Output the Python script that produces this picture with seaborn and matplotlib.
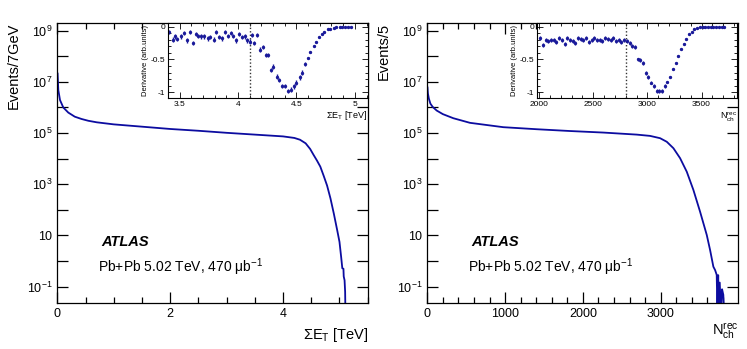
import numpy as np
import seaborn as sns
import matplotlib
matplotlib.use('Agg')
import matplotlib.pyplot as plt
from matplotlib.ticker import MultipleLocator, LogLocator, NullLocator, FuncFormatter

# main distributions (x, log10 of events per bin)
et_x = [0.005, 0.018, 0.048, 0.106, 0.195, 0.31, 0.43, 0.55, 0.7, 0.85, 1.0, 1.5, 2.0, 2.5,
        3.0, 3.5, 4.0, 4.2, 4.3, 4.4, 4.48, 4.54, 4.60, 4.66, 4.72, 4.78, 4.84, 4.90, 4.96,
        5.00, 5.03, 5.05, 5.07, 5.075, 5.09, 5.10, 5.105]
et_log = [7.34, 6.68, 6.29, 6.0, 5.80, 5.64, 5.55, 5.48, 5.42, 5.38, 5.34, 5.25, 5.16, 5.09,
          5.01, 4.94, 4.87, 4.81, 4.74, 4.60, 4.38, 4.15, 3.93, 3.69, 3.33, 2.95, 2.45, 1.85, 1.2,
          0.75, 0.15, -0.28, -0.30, -0.6, -0.75, -1.2, -2.0]

nch_x = [2, 8, 20, 40, 70, 121, 200, 335, 549, 977, 1407, 1835, 2263, 2693, 2864, 2993,
         3079, 3164, 3250, 3336, 3421, 3507, 3593, 3636, 3678, 3700, 3721, 3730, 3740,
         3750, 3760, 3775, 3790, 3806, 3815, 3828]
nch_log = [6.8, 6.55, 6.35, 6.15, 6.02, 5.88, 5.74, 5.58, 5.40, 5.23, 5.15, 5.08, 5.02,
           4.94, 4.89, 4.80, 4.66, 4.41, 4.02, 3.49, 2.78, 1.93, 1.02, 0.43, -0.22, -0.35,
           -0.54, -2.0, -0.55, -2.0, -0.84, -2.0, -1.1, -1.32, -2.0, -2.0]

# derivative insets
et_dx = [3.41, 3.44, 3.46, 3.48, 3.51, 3.54, 3.56, 3.59, 3.61, 3.64,
         3.66, 3.68, 3.71, 3.74, 3.76, 3.79, 3.81, 3.84, 3.86, 3.89,
         3.91, 3.94, 3.96, 3.98, 4.01, 4.03, 4.06, 4.08, 4.10, 4.12,
         4.14, 4.16, 4.19, 4.21, 4.24, 4.26, 4.28, 4.30, 4.33, 4.35,
         4.38, 4.40, 4.43, 4.45, 4.48, 4.50, 4.53, 4.55, 4.57, 4.60,
         4.62, 4.65, 4.67, 4.69, 4.72, 4.74, 4.77, 4.79, 4.82, 4.84,
         4.87, 4.89, 4.92, 4.94, 4.97]
et_dy = [-0.08, -0.20, -0.15, -0.19, -0.15, -0.10, -0.21, -0.08, -0.25, -0.11,
         -0.14, -0.15, -0.15, -0.18, -0.16, -0.20, -0.08, -0.16, -0.18, -0.08,
         -0.14, -0.10, -0.14, -0.21, -0.11, -0.16, -0.15, -0.21, -0.23, -0.13,
         -0.25, -0.13, -0.35, -0.31, -0.43, -0.43, -0.66, -0.61, -0.76, -0.81,
         -0.90, -0.90, -0.98, -0.96, -0.91, -0.85, -0.77, -0.70, -0.57, -0.48,
         -0.39, -0.29, -0.23, -0.16, -0.11, -0.08, -0.04, -0.03, -0.02, -0.01,
         -0.01, -0.01, 0.0, 0.0, 0.0]
et_derr = [0.035] * 49 + [0.005] * 16

nch_dx = [2010, 2035, 2060, 2085, 2110, 2135, 2160, 2185, 2210, 2235, 2260, 2285,
          2310, 2335, 2360, 2385, 2410, 2435, 2460, 2485, 2510, 2535, 2560, 2585,
          2610, 2635, 2660, 2685, 2710, 2735, 2760, 2785, 2810, 2835, 2860, 2885,
          2910, 2935, 2960, 2985, 3010, 3035, 3060, 3085, 3110, 3135, 3160, 3185,
          3210, 3235, 3260, 3285, 3310, 3335, 3360, 3385, 3410, 3435, 3460, 3485,
          3510, 3535, 3560, 3585, 3610, 3635, 3660, 3685, 3710]
nch_dy = [-0.17, -0.28, -0.20, -0.22, -0.20, -0.21, -0.23, -0.18, -0.21, -0.26, -0.17, -0.20,
          -0.22, -0.25, -0.18, -0.19, -0.21, -0.17, -0.24, -0.21, -0.18, -0.21, -0.20, -0.22,
          -0.17, -0.19, -0.21, -0.18, -0.22, -0.20, -0.24, -0.20, -0.22, -0.25, -0.29, -0.31,
          -0.50, -0.51, -0.56, -0.70, -0.76, -0.85, -0.91, -0.98, -0.98, -0.98, -0.90, -0.84,
          -0.76, -0.65, -0.55, -0.44, -0.34, -0.26, -0.19, -0.12, -0.08, -0.04, -0.02, -0.01,
          -0.01, -0.005, 0.0, 0.0, 0.0, 0.0, 0.0, 0.0, 0.0]
nch_derr = [0.03] * 47 + [0.005] * 22

sns.set_style('ticks')
plt.rcParams['font.family'] = ['Liberation Sans', 'DejaVu Sans']
plt.rcParams['mathtext.fontset'] = 'custom'
plt.rcParams['mathtext.rm'] = 'Liberation Sans'
plt.rcParams['mathtext.it'] = 'Liberation Sans:italic'
plt.rcParams['mathtext.bf'] = 'Liberation Sans:bold'
for k in ['text.color', 'axes.labelcolor', 'xtick.color', 'ytick.color', 'axes.edgecolor']:
    plt.rcParams[k] = 'black'

line_col = '#0c0ca0'
pt_col = '#1a1a9a'


def log_label(v, pos):
    e = int(round(np.log10(v)))
    if e % 2 == 0:
        return ''
    if e == 1:
        return '10'
    return r'$\mathregular{10^{%d}}$' % e


def style_main(ax, xmax, xminor, xmajor):
    ax.set_yscale('log')
    ax.set_ylim(0.0237, 2.05e9)
    ax.set_xlim(0, xmax)
    ax.yaxis.set_major_locator(LogLocator(base=10, numticks=30))
    ax.yaxis.set_minor_locator(NullLocator())
    ax.yaxis.set_major_formatter(FuncFormatter(log_label))
    ax.xaxis.set_major_locator(MultipleLocator(xmajor))
    ax.xaxis.set_minor_locator(MultipleLocator(xminor))
    ax.tick_params(which='both', direction='in', top=True, right=True, labelsize=9, width=0.9)
    ax.tick_params(which='major', length=8)
    ax.tick_params(which='minor', length=4)
    for s in ax.spines.values():
        s.set_linewidth(0.9)


def style_inset(ax, xlim, xmajor, xminor):
    ax.set_xlim(*xlim)
    ax.set_ylim(-1.09, 0.05)
    ax.xaxis.set_major_locator(MultipleLocator(xmajor))
    ax.xaxis.set_minor_locator(MultipleLocator(xminor))
    ax.xaxis.set_major_formatter(FuncFormatter(lambda v, p: '%g' % v))
    ax.yaxis.set_major_locator(MultipleLocator(0.5))
    ax.yaxis.set_minor_locator(MultipleLocator(0.1))
    ax.yaxis.set_major_formatter(FuncFormatter(lambda v, p: '0' if abs(v) < 1e-9 else ('%g' % v)))
    ax.tick_params(which='both', direction='in', top=True, right=True, labelsize=6, width=0.6, pad=2)
    ax.tick_params(which='major', length=4)
    ax.tick_params(which='minor', length=2)
    for s in ax.spines.values():
        s.set_linewidth(0.8)


fig = plt.figure(figsize=(7.47, 3.49), dpi=100)
ax1 = fig.add_axes([0.0767, 0.1327, 0.4163, 0.8023])
ax2 = fig.add_axes([0.5720, 0.1327, 0.4163, 0.8023])

panels = [
    (ax1, et_x, et_log, 5.51, 0.5, 2, 'Events/7GeV', r'$\mathregular{\Sigma E_T}$ [TeV]', 5),
    (ax2, nch_x, nch_log, 3998, 200, 1000, 'Events/5', r'$\mathregular{N_{ch}^{rec}}$', 1),
]
for ax, xs, ls, xmax, xminor, xmajor, ylab, xlab, pad in panels:
    sns.lineplot(x=xs, y=[10 ** v for v in ls], ax=ax, color=line_col, lw=1.3,
                 sort=False, estimator=None)
    style_main(ax, xmax, xminor, xmajor)
    ax.set_ylabel(ylab, loc='top', fontsize=10.5, labelpad=4)
    ax.set_xlabel(xlab, loc='right', fontsize=10.5, labelpad=pad)
    ax.text(0.143, 0.217, 'ATLAS', transform=ax.transAxes, fontsize=10.5,
            fontweight='bold', fontstyle='italic', va='center')
    ax.text(0.131, 0.128, 'Pb+Pb 5.02 TeV, 470 μb$^{-1}$', transform=ax.transAxes,
            fontsize=10, va='center')

in1 = fig.add_axes([0.2249, 0.7183, 0.2673, 0.2149], zorder=5)
in2 = fig.add_axes([0.7193, 0.7183, 0.2677, 0.2149], zorder=5)
insets = [
    (in1, et_dx, et_dy, et_derr, (3.40, 5.11), 0.5, 0.1, 4.1, r'$\mathregular{\Sigma E_T}$ [TeV]'),
    (in2, nch_dx, nch_dy, nch_derr, (1984, 3830), 500, 100, 2800, r'$\mathregular{N_{ch}^{rec}}$'),
]
for ax, xs, ys, es, xlim, xmajor, xminor, cut, xlab in insets:
    ax.set_facecolor('white')
    ax.errorbar(xs, ys, yerr=es, fmt='o', ms=1.4, color=pt_col, ecolor=pt_col,
                elinewidth=1.0, capsize=0)
    sns.scatterplot(x=xs, y=ys, ax=ax, color=pt_col, s=2, linewidth=0)
    ax.axvline(cut, color='#333333', ls=(0, (1, 1.5)), lw=1.0)
    style_inset(ax, xlim, xmajor, xminor)
    ax.set_ylabel('Derivative (arb.units)', fontsize=5.5, labelpad=1.5)
    ax.set_xlabel(xlab, loc='right', fontsize=6.5, labelpad=1)

fig.savefig('out.png', dpi=100)
